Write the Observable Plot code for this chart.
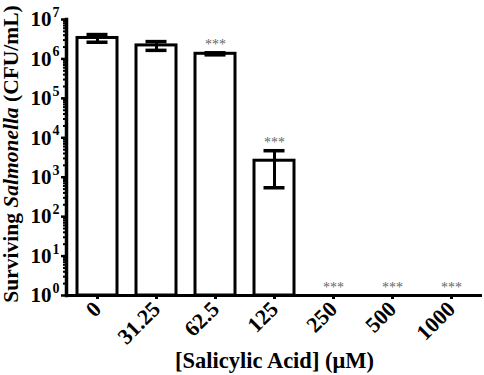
<!DOCTYPE html>
<html><head><meta charset="utf-8">
<script src="https://cdn.jsdelivr.net/npm/d3@7"></script>
<script src="https://cdn.jsdelivr.net/npm/@observablehq/plot@0.6"></script>
<style>body{margin:0;background:#fff}</style>
</head><body><div id="chart"></div>
<script>
const concentrations = ["0", "31.25", "62.5", "125", "250", "500", "1000"];
const meanCFU = [3.4e6, 2.2e6, 1.35e6, 2620, 1, 1, 1];
const sdCFU = [0.75e6, 0.55e6, 0.08e6, 2080, 0, 0, 0];
const significance = ["", "", "***", "***", "***", "***", "***"];
const yTickValues = [1, 10, 100, 1e3, 1e4, 1e5, 1e6, 1e7];
const yTickExponents = ["0", "1", "2", "3", "4", "5", "6", "7"];
const xLabel = "[Salicylic Acid] (μM)";
const yLabelParts = [["Surviving ", "normal"], ["Salmonella", "italic"], [" (CFU/mL)", "normal"]];

const data = concentrations.map((c, i) => ({
  conc: c, mean: meanCFU[i], sd: sdCFU[i], sig: significance[i],
  lo: Math.max(1, meanCFU[i] - sdCFU[i]), hi: meanCFU[i] + sdCFU[i]
}));
const errData = data.filter(d => d.sd > 0);
const yTicks = yTickValues.map((v, i) => ({v, e: yTickExponents[i]}));
const minorTicks = d3.scaleLog().domain([1, 1e7]).ticks().filter(t => !yTickValues.includes(t));

const chart = Plot.plot({
  width: 484, height: 375,
  marginLeft: 66, marginRight: 2, marginTop: 19, marginBottom: 80,
  style: {fontFamily: "Liberation Serif", fontWeight: "bold", background: "#fff", color: "#000"},
  x: {domain: concentrations, paddingInner: 0.32, paddingOuter: 0.175, label: null},
  y: {type: "log", domain: [1, 1e7], label: null},
  marks: [
    Plot.barY(data, {x: "conc", y1: 1, y2: "mean", fill: "white", stroke: "black", strokeWidth: 3}),
    Plot.ruleX(errData, {x: "conc", y1: "lo", y2: "hi", stroke: "black", strokeWidth: 3}),
    Plot.tickY(errData, {x: "conc", y: "hi", stroke: "black", strokeWidth: 3.5, insetLeft: 9.5, insetRight: 9.5}),
    Plot.tickY(errData, {x: "conc", y: "lo", stroke: "black", strokeWidth: 3.5, insetLeft: 9.5, insetRight: 9.5}),
    Plot.text(data.filter(d => d.sig), {x: "conc", y: "hi", text: "sig", dy: -8, fill: "#666", fontSize: 14, fontWeight: "normal"}),
    Plot.axisY({ticks: minorTicks, tickSize: 3, tickFormat: () => "", strokeWidth: 2, label: null}),
    Plot.axisY({ticks: yTickValues, tickSize: 5, tickFormat: () => "", strokeWidth: 2.5, label: null}),
    Plot.frame({anchor: "left", strokeWidth: 3.5}),
    Plot.ruleY([1], {stroke: "black", strokeWidth: 3}),
    Plot.axisX({tickSize: 4, tickRotate: -45, fontSize: 22, strokeWidth: 3, tickPadding: 6, label: null}),
    Plot.text(yTicks, {y: "v", text: () => "10", frameAnchor: "left", textAnchor: "end", dx: -15, fontSize: 21}),
    Plot.text(yTicks, {y: "v", text: "e", frameAnchor: "left", textAnchor: "start", dx: -14, dy: -7, fontSize: 14}),
    Plot.text([xLabel], {frameAnchor: "bottom", dy: 72, fontSize: 22.5})
  ]
});

const svg = d3.select(chart);
const yl = svg.append("text")
  .attr("transform", "translate(13,154) rotate(-90)")
  .attr("text-anchor", "middle")
  .attr("dominant-baseline", "middle")
  .attr("font-size", 21.5)
  .attr("font-weight", "bold")
  .attr("font-family", "Liberation Serif")
  .attr("fill", "black");
yLabelParts.forEach(([t, s]) => yl.append("tspan").attr("font-style", s).text(t));

document.getElementById("chart").appendChild(chart);
</script>
</body></html>
